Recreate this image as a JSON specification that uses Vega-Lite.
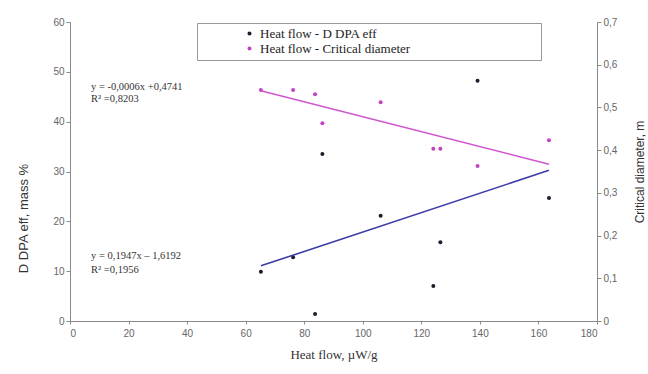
{
  "$schema": "https://vega.github.io/schema/vega-lite/v6.json",
  "width": 527,
  "height": 299,
  "autosize": {"type": "none"},
  "padding": {"left": 70, "top": 22, "right": 51, "bottom": 53},
  "background": "white",
  "config": {
    "view": {"stroke": null},
    "axis": {
      "grid": false,
      "domainColor": "#8a8a8a",
      "tickColor": "#8a8a8a",
      "labelColor": "#666666",
      "labelFont": "Liberation Sans",
      "labelFontSize": 10,
      "tickSize": 4,
      "titleFontWeight": "normal",
      "titleColor": "#333333"
    },
    "legend": {
      "strokeColor": "#999999",
      "fillColor": "white",
      "padding": 4,
      "labelFont": "Liberation Serif",
      "labelFontSize": 13,
      "labelColor": "#222222",
      "symbolType": "circle",
      "symbolSize": 16,
      "symbolOffset": 42,
      "rowPadding": 1
    }
  },
  "datasets": {
    "samples": [
      {"x": 65.2, "d": 9.9, "dc": 0.541},
      {"x": 76.2, "d": 12.8, "dc": 0.541},
      {"x": 83.7, "d": 1.4, "dc": 0.531},
      {"x": 86.2, "d": 33.5, "dc": 0.463},
      {"x": 106.1, "d": 21.1, "dc": 0.512},
      {"x": 124.1, "d": 7.0, "dc": 0.403},
      {"x": 126.5, "d": 15.8, "dc": 0.403},
      {"x": 139.2, "d": 48.2, "dc": 0.363},
      {"x": 163.6, "d": 24.7, "dc": 0.423}
    ],
    "notes": [
      {"tx": 7.2, "ty": 47.0, "label": "y = -0,0006x +0,4741"},
      {"tx": 7.2, "ty": 44.6, "label": "R² =0,8203"},
      {"tx": 7.2, "ty": 13.0, "label": "y = 0,1947x – 1,6192"},
      {"tx": 7.2, "ty": 10.2, "label": "R² =0,1956"}
    ]
  },
  "layer": [
    {
      "layer": [
        {
          "data": {"name": "samples"},
          "mark": {"type": "point", "filled": true, "size": 16, "opacity": 1},
          "encoding": {
            "x": {
              "field": "x",
              "type": "quantitative",
              "scale": {"domain": [0, 180], "nice": false},
              "axis": {
                "values": [0, 20, 40, 60, 80, 100, 120, 140, 160, 180],
                "tickSize": 3,
                "labelPadding": 4,
                "title": "Heat flow,  µW/g",
                "titleFont": "Liberation Serif",
                "titleFontSize": 13,
                "titlePadding": 10
              }
            },
            "y": {
              "field": "d",
              "type": "quantitative",
              "scale": {"domain": [0, 60], "nice": false},
              "axis": {
                "orient": "left",
                "values": [0, 10, 20, 30, 40, 50, 60],
                "title": "D DPA eff, mass %",
                "titleFont": "Liberation Sans",
                "titleFontSize": 13,
                "titleY": 196,
                "titlePadding": 22
              }
            },
            "color": {
              "datum": "Heat flow - D DPA eff",
              "type": "nominal",
              "scale": {
                "domain": ["Heat flow - D DPA eff", "Heat flow - Critical diameter"],
                "range": ["#1c1c2c", "#c044c0"]
              },
              "legend": {
                "orient": "none",
                "legendX": 127,
                "legendY": 1,
                "title": "\u00a0",
                "titleOrient": "right",
                "titlePadding": 127
              }
            }
          }
        },
        {
          "data": {"name": "samples"},
          "transform": [{"regression": "d", "on": "x"}],
          "mark": {"type": "line", "color": "#3c3ca8", "strokeWidth": 1.6},
          "encoding": {
            "x": {"field": "x", "type": "quantitative"},
            "y": {"field": "d", "type": "quantitative"}
          }
        },
        {
          "data": {"name": "notes"},
          "mark": {"type": "text", "align": "left", "baseline": "middle", "font": "Liberation Serif", "fontSize": 10.5, "color": "#333333"},
          "encoding": {
            "x": {"field": "tx", "type": "quantitative"},
            "y": {"field": "ty", "type": "quantitative"},
            "text": {"field": "label"}
          }
        }
      ]
    },
    {
      "layer": [
        {
          "data": {"name": "samples"},
          "mark": {"type": "point", "filled": true, "size": 16, "opacity": 1},
          "encoding": {
            "x": {"field": "x", "type": "quantitative"},
            "y": {
              "field": "dc",
              "type": "quantitative",
              "scale": {"domain": [0, 0.7], "nice": false},
              "axis": {
                "orient": "right",
                "values": [0, 0.1, 0.2, 0.3, 0.4, 0.5, 0.6, 0.7],
                "labelExpr": "datum.value == 0 ? '0' : replace(format(datum.value, '.1f'), '.', ',')",
                "title": "Critical diameter, m",
                "titleFont": "Liberation Sans",
                "titleFontSize": 12,
                "titleAngle": 270,
                "titlePadding": 30
              }
            },
            "color": {"datum": "Heat flow - Critical diameter", "type": "nominal"}
          }
        },
        {
          "data": {"name": "samples"},
          "transform": [{"regression": "dc", "on": "x"}],
          "mark": {"type": "line", "color": "#d055d0", "strokeWidth": 1.6},
          "encoding": {
            "x": {"field": "x", "type": "quantitative"},
            "y": {"field": "dc", "type": "quantitative"}
          }
        }
      ]
    }
  ],
  "resolve": {"scale": {"y": "independent"}}
}
